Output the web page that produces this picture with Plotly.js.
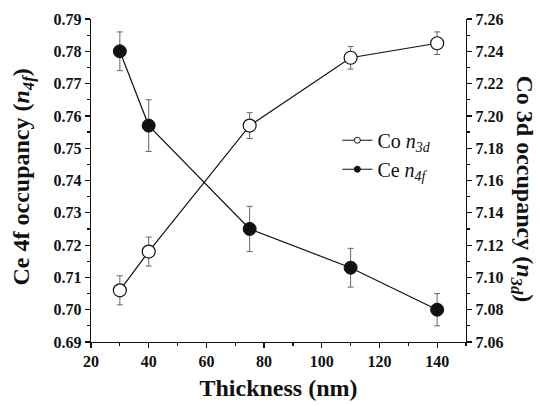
<!DOCTYPE html>
<html>
<head>
<meta charset="utf-8">
<script src="https://cdn.plot.ly/plotly-3.0.1.min.js"></script>
<style>body{margin:0;padding:0;background:#fff;}#chart{width:540px;height:406px;}</style>
</head>
<body>
<div id="chart"></div>
<script>
// Data
var thickness = [30, 40, 75, 110, 140];
var ceN4f = [0.780, 0.757, 0.725, 0.713, 0.700];
var ceN4fErr = [0.006, 0.008, 0.007, 0.006, 0.005];
var coN3d = [7.092, 7.116, 7.194, 7.236, 7.245];
var coN3dErr = [0.009, 0.009, 0.008, 0.007, 0.007];
var seriesNames = ['Co <i>n</i><sub><i>3d</i></sub>', 'Ce <i>n</i><sub><i>4f</i></sub>'];

var serif = 'Liberation Serif';
var tickFont = {family: serif, size: 16, color: '#111', weight: 'bold'};

var coTrace = {
  x: thickness, y: coN3d, yaxis: 'y2', type: 'scatter', mode: 'lines+markers',
  name: seriesNames[0], showlegend: false,
  line: {color: '#111', width: 1.2},
  marker: {size: 13, color: '#fff', line: {color: '#111', width: 1.2}},
  error_y: {type: 'data', array: coN3dErr, visible: true, color: '#666', thickness: 1, width: 3}
};
var ceTrace = {
  x: thickness, y: ceN4f, yaxis: 'y', type: 'scatter', mode: 'lines+markers',
  name: seriesNames[1], showlegend: false,
  line: {color: '#111', width: 1.2},
  marker: {size: 13, color: '#111', line: {color: '#111', width: 1}},
  error_y: {type: 'data', array: ceN4fErr, visible: true, color: '#666', thickness: 1, width: 3}
};
// legend-only entries (small symbols as in the reference legend)
var coLegend = {
  x: [null], y: [null], yaxis: 'y2', type: 'scatter', mode: 'lines+markers',
  name: seriesNames[0], legendgroup: 'co',
  line: {color: '#111', width: 1},
  marker: {size: 6, color: '#fff', line: {color: '#111', width: 1}}
};
var ceLegend = {
  x: [null], y: [null], yaxis: 'y', type: 'scatter', mode: 'lines+markers',
  name: seriesNames[1], legendgroup: 'ce',
  line: {color: '#111', width: 1},
  marker: {size: 6, color: '#111', line: {color: '#111', width: 1}}
};

var axisCommon = {
  showgrid: false, zeroline: false, showline: true, linecolor: '#111', linewidth: 1.2,
  ticks: 'outside', ticklen: 5, tickwidth: 1.2, tickcolor: '#111', tickfont: tickFont
};

var layout = {
  width: 540, height: 406,
  margin: {l: 91, r: 74, t: 19, b: 64},
  paper_bgcolor: '#fff', plot_bgcolor: '#fff',
  showlegend: true,
  legend: {x: 0.657, y: 0.685, xanchor: 'left', yanchor: 'top', bgcolor: 'rgba(0,0,0,0)',
           font: {family: serif, size: 20, color: '#111'}, itemwidth: 30, tracegroupgap: 0,
           traceorder: 'grouped'},
  xaxis: Object.assign({}, axisCommon, {
    range: [20, 150], dtick: 20, tick0: 20,
    minor: {dtick: 10, ticks: 'outside', ticklen: 3, tickcolor: '#111'},
    title: {text: 'Thickness (nm)', font: {family: serif, size: 24, color: '#111', weight: 'bold'}, standoff: 9}
  }),
  xaxis2: {
    overlaying: 'x', side: 'top', anchor: 'y', range: [20, 150], dtick: 20, tick0: 20,
    showgrid: false, zeroline: false, showline: true, linecolor: '#111', linewidth: 1.2,
    ticks: 'inside', ticklen: 5, tickcolor: '#111', showticklabels: false,
    minor: {dtick: 10, ticks: 'inside', ticklen: 3, tickcolor: '#111'}
  },
  yaxis: Object.assign({}, axisCommon, {
    range: [0.69, 0.79], dtick: 0.01, tick0: 0.69, tickformat: '.2f',
    minor: {dtick: 0.005, ticks: 'outside', ticklen: 3, tickcolor: '#111'}
  }),
  yaxis2: Object.assign({}, axisCommon, {
    overlaying: 'y', side: 'right', anchor: 'x',
    range: [7.06, 7.26], dtick: 0.02, tick0: 7.06, tickformat: '.2f',
    minor: {dtick: 0.01, ticks: 'outside', ticklen: 3, tickcolor: '#111'}
  }),
  annotations: [
    {xref: 'paper', yref: 'paper', x: 0, y: 0.5, xshift: -69, yshift: 3, showarrow: false,
     textangle: -90, xanchor: 'center', yanchor: 'middle',
     text: 'Ce 4f occupancy (<i>n</i><sub><i>4f</i></sub>)',
     font: {family: serif, size: 24, color: '#111', weight: 'bold'}},
    {xref: 'paper', yref: 'paper', x: 1, y: 0.5, xshift: 57, yshift: -8, showarrow: false,
     textangle: 90, xanchor: 'center', yanchor: 'middle',
     text: 'Co 3d occupancy (<i>n</i><sub><i>3d</i></sub>)',
     font: {family: serif, size: 24, color: '#111', weight: 'bold'}}
  ]
};

Plotly.newPlot('chart', [ceTrace, coTrace, coLegend, ceLegend], layout, {displayModeBar: false, staticPlot: true});
</script>
</body>
</html>
